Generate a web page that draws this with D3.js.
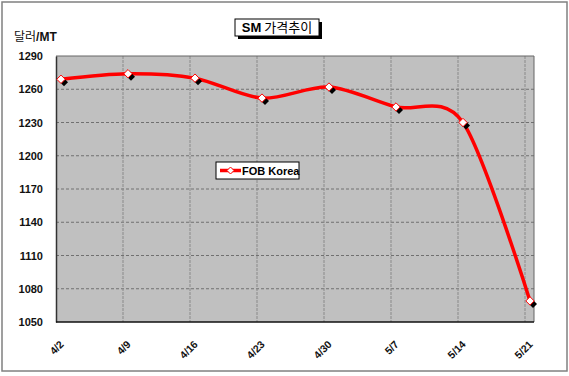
<!DOCTYPE html>
<html><head><meta charset="utf-8">
<script src="https://cdn.jsdelivr.net/npm/d3@7"></script>
<style>body{margin:0;background:#fff}svg{display:block}text{font-family:Arial,"Liberation Sans",sans-serif}</style>
</head><body>
<svg id="c" width="569" height="376"></svg>
<script>
const categories = ["4/2","4/9","4/16","4/23","4/30","5/7","5/14","5/21"];
const fobKorea = [1269,1274,1270,1252,1262,1244,1230,1069];
const yTicks = [1050,1080,1110,1140,1170,1200,1230,1260,1290];
const seriesName = "FOB Korea";
const titleMain = "SM";
const titleRest = " 가격추이";
const unitLabel = ["달러","/MT"];

const svg = d3.select("#c");
const plot = {l:56, r:534, t:56, b:322};

// outer frame
svg.append("rect").attr("x",2).attr("y",2).attr("width",565).attr("height",369)
  .attr("fill","#fff").attr("stroke","#808080").attr("stroke-width",1.5);

const x = d3.scalePoint().domain(categories).range([61,530]);
const y = d3.scaleLinear().domain([1050,1290]).range([plot.b, plot.t]);

// plot background
svg.append("rect").attr("x",plot.l).attr("y",plot.t).attr("width",plot.r-plot.l).attr("height",plot.b-plot.t)
  .attr("fill","#c0c0c0");

// horizontal gridlines
svg.append("g").selectAll("line").data(yTicks.filter(d=>d>1050 && d<1290)).join("line")
  .attr("x1",plot.l).attr("x2",plot.r).attr("y1",d=>y(d)).attr("y2",d=>y(d))
  .attr("stroke","#707070").attr("stroke-width",1).attr("stroke-dasharray","3,2");
// vertical gridlines
svg.append("g").selectAll("line").data(categories.slice(1)).join("line")
  .attr("x1",d=>x(d)-5).attr("x2",d=>x(d)-5).attr("y1",plot.t).attr("y2",plot.b)
  .attr("stroke","#8a8a8a").attr("stroke-width",1).attr("stroke-dasharray","3,1");

// plot border
svg.append("line").attr("x1",plot.l).attr("x2",plot.r).attr("y1",plot.t).attr("y2",plot.t).attr("stroke","#666");
svg.append("line").attr("x1",plot.r).attr("x2",plot.r).attr("y1",plot.t).attr("y2",plot.b).attr("stroke","#666");

// y axis
const yAxis = d3.axisLeft(y).tickValues(yTicks).tickSize(0).tickPadding(13).tickFormat(d3.format("d"));
const ya = svg.append("g").attr("transform",`translate(${plot.l},0)`).call(yAxis);
ya.select(".domain").attr("stroke","#333").attr("stroke-width",1.5);
ya.selectAll("text").attr("font-size",11).attr("font-weight","bold").attr("fill","#111");

// x axis
const xa = svg.append("g").attr("transform",`translate(0,${plot.b})`)
  .call(d3.axisBottom(x).tickSize(0).tickFormat(d=>d));
xa.select(".domain").attr("d",`M${plot.l},0H${plot.r}`).attr("stroke","#111").attr("stroke-width",1.5);
xa.selectAll("text").attr("font-size",10.5).attr("font-weight","bold").attr("fill","#111")
  .attr("text-anchor","end").attr("dy",0)
  .attr("transform","translate(3,23) rotate(-45)")
  .attr("y",0).attr("x",0);

// line
const line = d3.line().x((d,i)=>x(categories[i])).y(d=>y(d)).curve(d3.curveCardinal.tension(0.1));
svg.append("path").datum(fobKorea).attr("d",line).attr("fill","none")
  .attr("stroke","#ff0000").attr("stroke-width",3.5);

// markers
const diamond = s => `M0,${-s}L${s},0L0,${s}L${-s},0Z`;
svg.append("g").selectAll("path").data(fobKorea).join("path")
  .attr("transform",(d,i)=>`translate(${x(categories[i])+3},${y(d)+3})`)
  .attr("d",diamond(4)).attr("fill","#000");
svg.append("g").selectAll("path").data(fobKorea).join("path")
  .attr("transform",(d,i)=>`translate(${x(categories[i])},${y(d)})`)
  .attr("d",diamond(4.2)).attr("fill","#fff").attr("stroke","#ff0000").attr("stroke-width",1);

// title
svg.append("rect").attr("x",238).attr("y",22).attr("width",84).attr("height",17).attr("fill","#000");
svg.append("rect").attr("x",235).attr("y",19).attr("width",84).attr("height",17).attr("fill","#fff").attr("stroke","#000").attr("stroke-width",1);
const tt = svg.append("text").attr("x",277).attr("y",32).attr("text-anchor","middle").attr("font-size",13).attr("fill","#000");
tt.append("tspan").attr("font-weight","bold").text(titleMain);
tt.append("tspan").attr("font-family","'Noto Sans CJK KR',sans-serif").attr("font-size",13).text(titleRest);

// unit label
const ul = svg.append("text").attr("x",14).attr("y",41).attr("font-size",12).attr("fill","#111");
ul.append("tspan").attr("font-family","'Noto Sans CJK KR',sans-serif").text(unitLabel[0]);
ul.append("tspan").attr("font-weight","bold").text(unitLabel[1]);

// legend
const lg = svg.append("g").attr("transform","translate(216,162)");
lg.append("rect").attr("width",83).attr("height",17).attr("fill","#fff").attr("stroke","#000").attr("stroke-width",1);
lg.append("line").attr("x1",4).attr("x2",25).attr("y1",8.5).attr("y2",8.5).attr("stroke","#f00").attr("stroke-width",3.5);
lg.append("path").attr("transform","translate(14.5,8.5)").attr("d",diamond(3.5)).attr("fill","#fff").attr("stroke","#f00");
lg.append("text").attr("x",26).attr("y",12.5).attr("font-size",11).attr("font-weight","bold").attr("fill","#000").text(seriesName);
</script>
</body></html>
